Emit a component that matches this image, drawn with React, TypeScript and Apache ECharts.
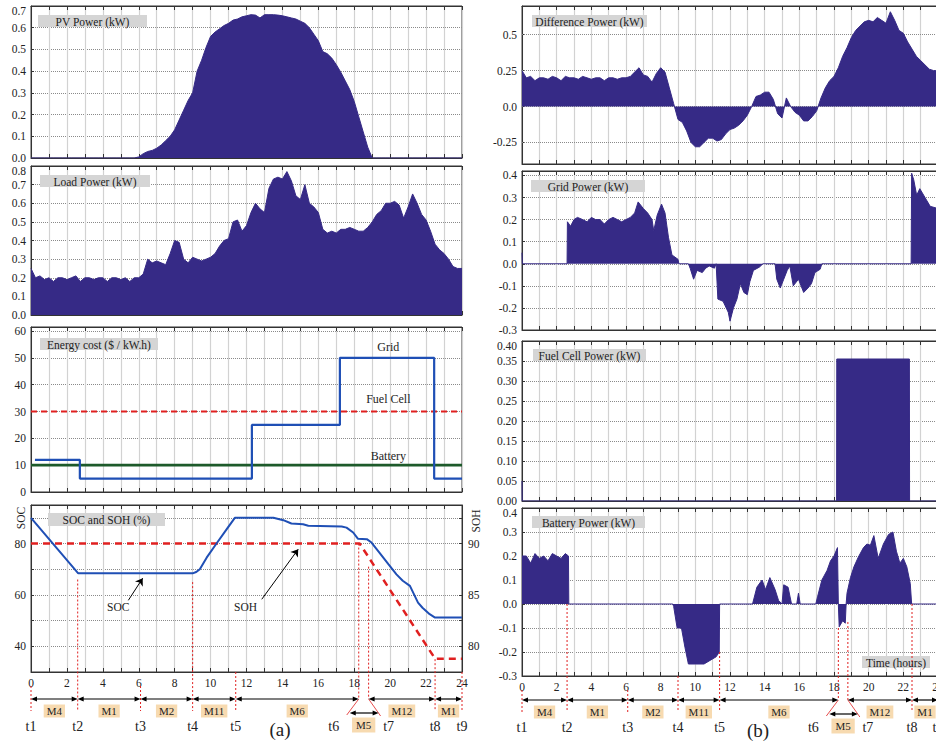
import React, { useEffect, useRef } from "react";
import * as echarts from "echarts";

// ---------------- DATA ----------------
const STEP = 0.25; // hours between samples of the uniform series

// PV power (kW), one row per hour, 4 samples per hour
const pvPower = [
  0, 0, 0, 0,
  0, 0, 0, 0,
  0, 0, 0, 0,
  0, 0, 0, 0,
  0, 0, 0, 0,
  0, 0, 0, 0,
  0.005, 0.02, 0.03, 0.035,
  0.045, 0.06, 0.08, 0.1,
  0.13, 0.175, 0.22, 0.265,
  0.3, 0.4, 0.45, 0.51,
  0.56, 0.58, 0.595, 0.61,
  0.62, 0.635, 0.64, 0.65,
  0.655, 0.66, 0.658, 0.645,
  0.66, 0.66, 0.66, 0.658,
  0.655, 0.65, 0.645, 0.64,
  0.63, 0.62, 0.6, 0.57,
  0.54, 0.49, 0.48, 0.46,
  0.43, 0.395, 0.355, 0.315,
  0.26, 0.19, 0.12, 0.05,
  0, 0, 0, 0,
  0, 0, 0, 0,
  0, 0, 0, 0,
  0, 0, 0, 0,
  0, 0, 0, 0,
  0,
];

// Load power (kW)
const loadPower = [
  0.25, 0.2, 0.21, 0.19,
  0.2, 0.18, 0.2, 0.2,
  0.19, 0.2, 0.21, 0.18,
  0.2, 0.2, 0.19, 0.2,
  0.2, 0.18, 0.2, 0.2,
  0.19, 0.2, 0.18, 0.2,
  0.2, 0.22, 0.3, 0.28,
  0.29, 0.28, 0.27, 0.33,
  0.4, 0.39, 0.3, 0.28,
  0.31, 0.3, 0.29, 0.3,
  0.31, 0.33, 0.37, 0.4,
  0.41, 0.5, 0.51, 0.45,
  0.48, 0.55, 0.6, 0.57,
  0.55, 0.68, 0.73, 0.74,
  0.73, 0.77, 0.72, 0.64,
  0.62, 0.7, 0.6, 0.58,
  0.55, 0.46, 0.44, 0.45,
  0.44, 0.46, 0.46, 0.47,
  0.46, 0.45, 0.45, 0.47,
  0.5, 0.54, 0.56, 0.6,
  0.6, 0.61, 0.59, 0.52,
  0.58, 0.65, 0.6, 0.54,
  0.51, 0.45, 0.38, 0.35,
  0.33, 0.3, 0.26, 0.25,
  0.25,
];

// Difference power (kW)
const diffPower = [
  0.25, 0.2, 0.21, 0.18,
  0.2, 0.2, 0.19, 0.21,
  0.2, 0.18, 0.21, 0.2,
  0.2, 0.19, 0.21, 0.2,
  0.19, 0.2, 0.2, 0.18,
  0.2, 0.2, 0.19, 0.2,
  0.2, 0.21, 0.24, 0.27,
  0.22, 0.21, 0.17, 0.23,
  0.27, 0.24, 0.13, 0.02,
  -0.09, -0.11, -0.17, -0.25,
  -0.28, -0.28, -0.25, -0.22,
  -0.22, -0.24, -0.23, -0.19,
  -0.16, -0.15, -0.13, -0.1,
  -0.06, 0, 0.07, 0.08,
  0.1, 0.1, 0.05, -0.05,
  -0.08, 0.06, 0, -0.04,
  -0.06, -0.1, -0.1, -0.07,
  -0.03, 0.06, 0.13, 0.18,
  0.21, 0.27, 0.35, 0.41,
  0.48, 0.53, 0.56, 0.59,
  0.6, 0.59, 0.62, 0.6,
  0.58, 0.66, 0.6, 0.53,
  0.51, 0.45, 0.4, 0.35,
  0.32, 0.29, 0.26, 0.25,
  0.25,
];

// Grid power (kW): [hour, kW]
const gridPower = [
  [0, 0.05], [0.02, 0], [2.6, 0], [2.62, 0.19], [2.8, 0.17], [3.0, 0.2], [3.2, 0.21], [3.5, 0.2],
  [3.75, 0.19], [4.0, 0.21], [4.25, 0.2], [4.5, 0.2], [4.75, 0.18], [5.0, 0.2], [5.25, 0.21], [5.5, 0.2],
  [5.75, 0.19], [6.0, 0.2], [6.25, 0.21], [6.5, 0.23], [6.7, 0.28], [7.0, 0.25], [7.25, 0.23], [7.5, 0.2],
  [7.6, 0.15], [7.8, 0.22], [8.05, 0.27], [8.25, 0.23], [8.45, 0.12], [8.65, 0.04], [9.0, 0.02], [9.05, 0],
  [9.6, 0], [9.7, -0.02], [9.9, -0.07], [10.1, -0.03], [10.4, -0.04], [10.6, -0.02], [10.8, -0.01], [11.1, -0.02],
  [11.2, 0], [11.3, -0.16], [11.6, -0.17], [11.9, -0.22], [12.0, -0.26], [12.2, -0.2], [12.4, -0.16], [12.6, -0.09],
  [12.8, -0.13], [13.0, -0.14], [13.15, -0.08], [13.35, -0.03], [13.7, -0.015], [13.9, 0], [14.6, 0], [14.7, -0.07],
  [14.9, -0.11], [15.1, -0.07], [15.3, -0.03], [15.45, -0.01], [15.65, -0.1], [15.95, -0.07], [16.25, -0.13], [16.5, -0.11],
  [16.7, -0.09], [16.9, -0.04], [17.2, -0.025], [17.3, 0], [22.45, 0], [22.48, 0.41], [22.6, 0.38], [22.77, 0.31],
  [22.95, 0.34], [23.25, 0.3], [23.55, 0.26], [24, 0.25],
];

// Fuel cell power (kW)
const fuelCellPower = [
  [0, 0.05], [0.01, 0], [18.15, 0], [18.16, 0.355], [22.35, 0.355], [22.36, 0], [24, 0],
];

// Battery power (kW)
const batteryPower = [
  [0, 0.2], [0.25, 0.2], [0.5, 0.17], [0.75, 0.21], [1.0, 0.19], [1.25, 0.2], [1.5, 0.18], [1.75, 0.21],
  [2.0, 0.2], [2.25, 0.19], [2.5, 0.21], [2.68, 0.2], [2.7, 0], [8.7, 0], [8.75, -0.01], [8.95, -0.1],
  [9.2, -0.1], [9.4, -0.18], [9.6, -0.25], [10.0, -0.25], [10.5, -0.25], [10.85, -0.235], [11.2, -0.22], [11.38, -0.2],
  [11.4, 0], [13.3, 0], [13.55, 0.07], [13.85, 0.1], [14.05, 0.06], [14.3, 0.11], [14.6, 0.06], [14.8, 0.015],
  [15.0, 0], [15.1, 0.08], [15.35, 0.07], [15.55, 0], [15.85, 0], [15.95, 0.045], [16.05, 0], [16.95, 0],
  [17.05, 0.03], [17.3, 0.1], [17.6, 0.14], [17.8, 0.18], [18.0, 0.2], [18.2, 0.235], [18.25, 0], [18.3, -0.095],
  [18.5, -0.07], [18.65, -0.08], [18.7, 0], [18.75, 0.045], [18.95, 0.11], [19.15, 0.155], [19.4, 0.195], [19.7, 0.235],
  [19.9, 0.25], [20.1, 0.245], [20.3, 0.285], [20.55, 0.19], [20.85, 0.25], [21.15, 0.29], [21.4, 0.3], [21.6, 0.22],
  [21.8, 0.17], [22.0, 0.19], [22.2, 0.155], [22.4, 0.085], [22.48, 0], [24, 0],
];

// Energy cost ($ / kW.h)
const gridCost = [
  [0.22, 12], [2.72, 12], [2.72, 5], [12.3, 5], [12.3, 25], [17.2, 25], [17.2, 50], [22.45, 50], [22.45, 5], [24, 5],
];
const fuelCellCost = [[0, 30], [24, 30]];
const batteryCost = [[0, 10], [24, 10]];
const costLabels = [
  { text: "Grid", t: 19.9, v: 54.2 },
  { text: "Fuel Cell", t: 19.9, v: 34.6 },
  { text: "Battery", t: 19.9, v: 13.4 },
];

// SOC (%) on left axis, SOH (%) on right axis
const soc = [
  [0, 90], [2.63, 68.4], [9.0, 68.4], [9.2, 68.9], [9.4, 70], [9.78, 74.5], [10.33, 80], [10.9, 85.6],
  [11.35, 90], [13.5, 90], [14.05, 89.1], [14.5, 87.8], [15.15, 87.5], [15.44, 86.9], [17.3, 86.6], [17.57, 86.2],
  [17.94, 84.3], [18.2, 81.9], [18.7, 81.7], [18.96, 80.4], [19.4, 76.5], [19.9, 72], [20.35, 68], [20.7, 65.5],
  [21.1, 63.5], [21.55, 57], [21.8, 55], [22.2, 52.5], [22.5, 51.2], [24, 51.2],
];
const soh = [[0, 90], [18.3, 90], [22.5, 78.8], [24, 78.8]];
const socArrows = [
  { text: "SOC", textAt: [4.86, 55.3], from: [5.42, 57.9], to: [6.22, 66.5] },
  { text: "SOH", textAt: [11.95, 55.3], from: [12.85, 58.3], to: [14.88, 77.8] },
];

// Operating modes
const modeTimes = [0, 2.6, 6.1, 9.0, 11.4, 18.25, 18.8, 22.5, 24];
const modeLabels = ["M4", "M1", "M2", "M11", "M6", "M5", "M12", "M1"];
// where each red dotted t-line starts (left: SOC units, right: battery kW)
const tTopLeft = [null, 66, null, 65, null, 80, 71, 35, null];
const tTopRight = [null, 0, null, null, -0.2, -0.1, -0.075, 0, null];
const tBelowLabel = [true, false, true, false, false, false, false, false, false];

const diffTicks = [-0.25, 0, 0.25, 0.5];
const socLabelValues = [40, 60, 80];
const sohLabelValues = [80, 85, 90];

// ---------------- STYLE / LAYOUT ----------------
const FONT = "'Liberation Serif','Times New Roman',Times,serif";
const FILL = "#362a86";
const AXIS = "#333";
const TXT = "#222";
const RED = "#e02020";

const fmt1 = (v: number) => {
  const r = Math.round(v * 10) / 10;
  return Math.abs(v - r) < 1e-6 ? r.toFixed(1) : "";
};

type Panel = {
  left: number; top: number; width: number; height: number;
  min: number; max: number; interval?: number; custom?: number[];
  labels: (v: number) => string; bottom?: boolean; topLabel?: boolean;
};

const panels: Panel[] = [
  { left: 31, top: 6, width: 431, height: 152, min: 0, max: 0.7, interval: 0.1, labels: fmt1, topLabel: true },
  { left: 31, top: 166, width: 431, height: 149, min: 0, max: 0.8, interval: 0.1, labels: fmt1, topLabel: true },
  { left: 31, top: 327, width: 431, height: 165, min: 0, max: 61.5, interval: 10,
    labels: (v) => (Math.abs(v / 10 - Math.round(v / 10)) < 1e-6 ? String(Math.round(v)) : "") },
  { left: 31, top: 505, width: 431, height: 167, min: 30, max: 95, interval: 10, bottom: true,
    labels: (v) => (socLabelValues.includes(Math.round(v)) && Math.abs(v - Math.round(v)) < 1e-6 ? String(Math.round(v)) : "") },
  { left: 522, top: 6, width: 416, height: 158, min: -0.4, max: 0.7, custom: diffTicks,
    labels: (v) => (Math.abs(v) < 1e-9 ? "0.0" : String(v)) },
  { left: 522, top: 171, width: 416, height: 159, min: -0.3, max: 0.42, interval: 0.1, labels: fmt1 },
  { left: 522, top: 341, width: 416, height: 160, min: 0, max: 0.4, interval: 0.05, labels: (v) => v.toFixed(2), topLabel: true },
  { left: 522, top: 508, width: 416, height: 168, min: -0.3, max: 0.4, interval: 0.1, bottom: true, labels: fmt1, topLabel: true },
];

const titleBoxes = [
  { text: "PV Power (kW)", x: 38, y: 15, w: 109, h: 12 },
  { text: "Load Power (kW)", x: 40, y: 175, w: 110, h: 12 },
  { text: "Energy cost ($ / kW.h)", x: 40, y: 338, w: 118, h: 12 },
  { text: "SOC and SOH (%)", x: 48, y: 513, w: 117, h: 13 },
  { text: "Difference Power (kW)", x: 532, y: 15, w: 115, h: 12 },
  { text: "Grid Power (kW)", x: 531, y: 180, w: 114, h: 12 },
  { text: "Fuel Cell Power (kW)", x: 533, y: 349, w: 113, h: 12 },
  { text: "Battery Power (kW)", x: 532, y: 516, w: 113, h: 12 },
  { text: "Time (hours)", x: 862, y: 656, w: 68, h: 12 },
];

const uniform = (vals: number[]) => vals.map((v, i) => [i * STEP, v]);

function areaSeries(xi: number, yi: number, data: number[][]) {
  return {
    type: "line", xAxisIndex: xi, yAxisIndex: yi, data, symbol: "none", showSymbol: false,
    lineStyle: { color: FILL, width: 1 }, itemStyle: { color: FILL },
    areaStyle: { color: FILL, opacity: 1 }, z: 3,
  };
}

function buildOption() {
  const grid = panels.map((p) => ({
    left: p.left, top: p.top, width: p.width, height: p.height,
    outerBoundsMode: "none", containLabel: false,
    show: true, borderColor: AXIS, borderWidth: 1, backgroundColor: "transparent",
  }));
  const xAxis: any[] = [];
  panels.forEach((p, i) => {
    xAxis.push({
      type: "value", gridIndex: i, min: 0, max: 24, interval: 1, position: "bottom",
      axisLine: { show: true, onZero: false, lineStyle: { color: AXIS } },
      axisTick: { show: true, inside: true, length: 4, lineStyle: { color: AXIS } },
      axisLabel: {
        show: !!p.bottom, margin: 5, fontFamily: FONT, fontSize: 11.5, color: TXT,
        formatter: (v: number) => (Math.round(v) % 2 === 0 ? String(Math.round(v)) : ""),
      },
      splitLine: { show: true, lineStyle: { color: "#d2d2d2", width: 1.2 } },
    });
    xAxis.push({
      type: "value", gridIndex: i, min: 0, max: 24, interval: 1, position: "top",
      axisLine: { show: true, onZero: false, lineStyle: { color: AXIS } },
      axisTick: { show: true, inside: true, length: 4, lineStyle: { color: AXIS } },
      axisLabel: { show: false }, splitLine: { show: false },
    });
  });
  const yAxis: any[] = panels.map((p, i) => ({
    type: "value", gridIndex: i, min: p.min, max: p.max,
    ...(p.interval ? { interval: p.interval } : {}),
    axisLine: { show: true, onZero: false, lineStyle: { color: AXIS } },
    axisTick: { show: true, inside: true, length: 3, lineStyle: { color: AXIS }, ...(p.custom ? { customValues: p.custom } : {}) },
    axisLabel: {
      show: true, fontFamily: FONT, fontSize: 11.5, color: TXT, margin: 5,
      formatter: (v: number) => {
        const s = p.labels(v);
        return p.topLabel && s && Math.abs(v - p.max) < 1e-9 ? `{t|${s}}` : s;
      },
      rich: { t: { padding: [9, 0, 0, 0], fontFamily: FONT, fontSize: 11.5, color: TXT } },
      ...(p.custom ? { customValues: p.custom } : {}),
    },
    splitLine: { show: !p.custom, lineStyle: { color: "#8a8a8a", type: "dotted", width: 1 } },
  }));
  // SOH right axis (index 8)
  yAxis.push({
    type: "value", gridIndex: 3, position: "right", min: 77.5, max: 93.75, interval: 2.5,
    axisLine: { show: true, onZero: false, lineStyle: { color: AXIS } },
    axisTick: { show: true, inside: true, length: 3, lineStyle: { color: AXIS } },
    axisLabel: {
      show: true, margin: 6, fontFamily: FONT, fontSize: 11.5, color: TXT,
      formatter: (v: number) => (sohLabelValues.some((s) => Math.abs(s - v) < 1e-6) ? String(Math.round(v)) : ""),
    },
    splitLine: { show: false },
  });

  const series: any[] = [
    areaSeries(0, 0, uniform(pvPower)),
    areaSeries(2, 1, uniform(loadPower)),
    {
      type: "line", xAxisIndex: 4, yAxisIndex: 2, data: fuelCellCost, symbol: "none",
      lineStyle: { color: RED, width: 2.2, type: [6, 4] }, z: 3,
    },
    {
      type: "line", xAxisIndex: 4, yAxisIndex: 2, data: batteryCost, symbol: "none",
      lineStyle: { color: "#1d5a2a", width: 2.6 }, z: 3,
    },
    {
      type: "line", xAxisIndex: 4, yAxisIndex: 2, data: gridCost, symbol: "none",
      lineStyle: { color: "#1f4fb5", width: 2.2 }, z: 4,
    },
    {
      type: "line", xAxisIndex: 6, yAxisIndex: 8, data: soh, symbol: "none",
      lineStyle: { color: RED, width: 2.5, type: [7, 5] }, z: 3,
    },
    {
      type: "line", xAxisIndex: 6, yAxisIndex: 3, data: soc, symbol: "none",
      lineStyle: { color: "#1f4fb5", width: 2 }, z: 4,
      markLine: {
        silent: true, symbol: ["none", "arrow"], symbolSize: 7, animation: false,
        label: { show: false },
        lineStyle: { color: "#000", width: 1, type: "solid" },
        data: socArrows.map((a) => [{ coord: a.from }, { coord: a.to }]),
      },
    },
    // dotted horizontal grid for the difference panel (drawn under the fill)
    {
      type: "line", xAxisIndex: 8, yAxisIndex: 4, data: [[0, 0]], symbol: "none",
      lineStyle: { opacity: 0 }, z: 1,
      markLine: {
        z: 1, silent: true, symbol: ["none", "none"], label: { show: false }, animation: false,
        lineStyle: { color: "#8a8a8a", type: "dotted", width: 1 },
        data: diffTicks.map((v) => ({ yAxis: v })),
      },
    },
    areaSeries(8, 4, uniform(diffPower)),
    areaSeries(10, 5, gridPower),
    areaSeries(12, 6, fuelCellPower),
    areaSeries(14, 7, batteryPower),
  ];

  return {
    animation: false,
    backgroundColor: "#fff",
    textStyle: { fontFamily: FONT },
    grid, xAxis, yAxis, series,
  };
}

function buildGraphics(chart: any) {
  const g: any[] = [];
  const px = (xi: number, yi: number, t: number, v: number) =>
    chart.convertToPixel({ xAxisIndex: xi, yAxisIndex: yi }, [t, v]) as number[];
  const line = (x1: number, y1: number, x2: number, y2: number, stroke: string, w: number, dash?: number[]) => ({
    type: "line", silent: true, z: 60,
    shape: { x1, y1, x2, y2 },
    style: { stroke, lineWidth: w, ...(dash ? { lineDash: dash } : {}) },
  });
  const text = (x: number, y: number, t: string, size: number, extra: any = {}) => ({
    type: "text", x, y, silent: true, z: 70,
    style: { text: t, font: `${size}px ${FONT}`, fill: TXT, align: "center", verticalAlign: "middle", ...extra },
  });
  const head = (tipX: number, y: number, dir: number) => ({
    type: "polygon", silent: true, z: 61,
    shape: { points: [[tipX, y], [tipX - dir * 6, y - 2.6], [tipX - dir * 6, y + 2.6]] },
    style: { fill: "#000" },
  });
  const dblArrow = (x1: number, x2: number, y: number) => {
    g.push(line(x1 + 3, y, x2 - 3, y, "#000", 1.2));
    g.push(head(x1, y, -1));
    g.push(head(x2, y, 1));
  };

  // title boxes
  titleBoxes.forEach((b) => {
    g.push({ type: "rect", silent: true, z: 50, shape: { x: b.x, y: b.y, width: b.w, height: b.h }, style: { fill: "#d5d5d5" } });
    g.push(text(b.x + b.w / 2, b.y + b.h / 2 + 0.5, b.text, 11.5));
  });

  // energy cost labels
  costLabels.forEach((c) => {
    const [x, y] = px(4, 2, c.t, c.v);
    g.push(text(x, y, c.text, 12));
  });

  // SOC / SOH annotation texts
  socArrows.forEach((a) => {
    const [x, y] = px(6, 3, a.textAt[0], a.textAt[1]);
    g.push(text(x, y, a.text, 11.5));
  });

  // rotated axis names
  g.push({ ...text(21, 518, "SOC", 11.5), rotation: Math.PI / 2 });
  g.push({ ...text(476, 521, "SOH", 11.5), rotation: Math.PI / 2 });

  // mode annotations under each column
  const columns = [
    { xi: 6, yi: 3, panel: 3, rowY: 699, tops: tTopLeft, letter: "(a)", letterX: 280 },
    { xi: 14, yi: 7, panel: 7, rowY: 700, tops: tTopRight, letter: "(b)", letterX: 758 },
  ];
  columns.forEach((col) => {
    const p = panels[col.panel];
    const axisY = p.top + p.height;
    const xs = modeTimes.map((t) => px(col.xi, col.yi, t, p.min)[0]);
    const rowY = col.rowY;
    modeTimes.forEach((t, k) => {
      const topV = col.tops[k];
      const top = topV !== null ? px(col.xi, col.yi, t, topV as number)[1] : axisY + (tBelowLabel[k] ? 14 : 0);
      const bottom = k === 5 || k === 6 ? rowY : rowY + 12;
      g.push(line(xs[k], top, xs[k], bottom, RED, 1, [2, 2]));
    });
    g.push(line(xs[5], rowY, xs[5] - 12, rowY + 16, RED, 0.8));
    g.push(line(xs[6], rowY, xs[6] + 12, rowY + 17, RED, 0.8));
    for (let k = 0; k < modeTimes.length - 1; k++) {
      if (k === 5) {
        dblArrow(xs[5] - 9, xs[6] + 10, rowY + 14);
        g.push(text((xs[5] + xs[6]) / 2, rowY + 26, modeLabels[k], 11, { backgroundColor: "#f7dab0", padding: [2, 4] }));
      } else {
        dblArrow(xs[k], xs[k + 1], rowY);
        g.push(text((xs[k] + xs[k + 1]) / 2, rowY + 12, modeLabels[k], 11, { backgroundColor: "#f7dab0", padding: [1, 3] }));
      }
    }
    modeTimes.forEach((_, k) => {
      const x = k === 5 ? xs[5] - 25 : k === 6 ? xs[6] + 20 : xs[k];
      g.push(text(x, rowY + 27, `t${k + 1}`, 14));
    });
    g.push(text(col.letterX, rowY + 30, col.letter, 19));
  });
  return g;
}

export default function App() {
  const ref = useRef<HTMLDivElement>(null);
  useEffect(() => {
    if (!ref.current) return;
    const chart = echarts.init(ref.current, null, { renderer: "svg" });
    chart.setOption(buildOption() as any);
    chart.setOption({ graphic: buildGraphics(chart) } as any);
    return () => chart.dispose();
  }, []);
  return (
    <div
      ref={ref}
      style={{ position: "fixed", left: 0, top: 0, width: 936, height: 742, background: "#fff" }}
    />
  );
}
